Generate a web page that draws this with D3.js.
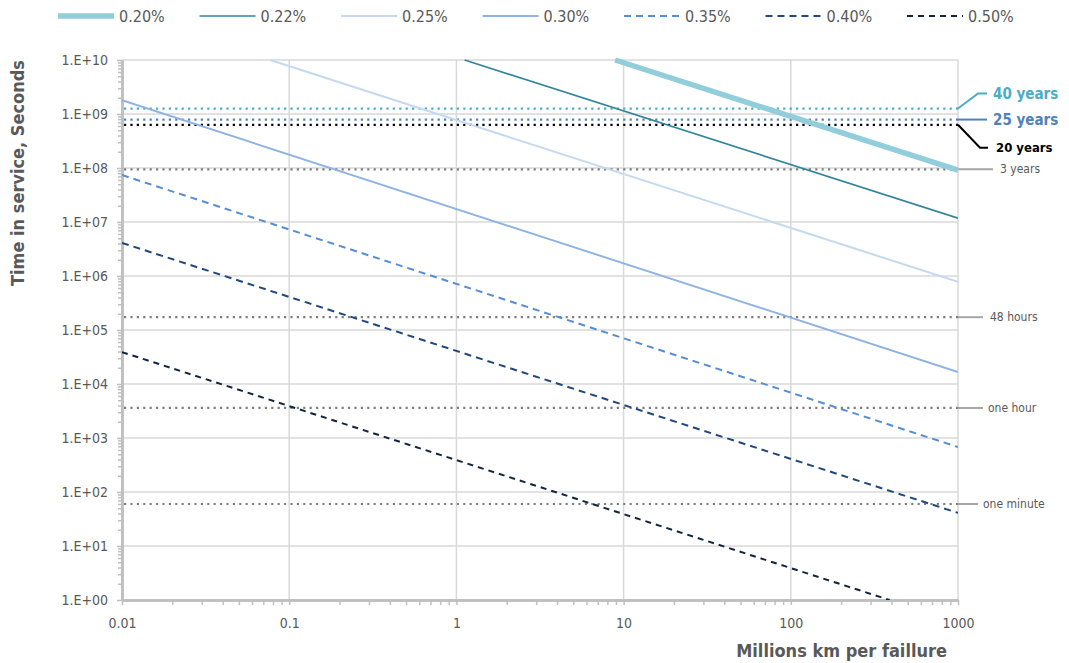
<!DOCTYPE html>
<html>
<head>
<meta charset="utf-8">
<script src="https://cdn.jsdelivr.net/npm/d3@7"></script>
<style>
  html, body { margin: 0; padding: 0; background: #fff; }
  svg { display: block; }
  text { font-family: "Liberation Sans Narrow", "DejaVu Sans Condensed", "Liberation Sans", sans-serif; }
</style>
</head>
<body>
<svg id="chart" width="1069" height="663"></svg>
<script>
// ---------- data ----------
const seriesNames = ["0.20%", "0.22%", "0.25%", "0.30%", "0.35%", "0.40%", "0.50%"];
// each series is a straight line on the log-log plot; endpoints
const startX = [8.9, 1.12, 0.077, 0.01, 0.01, 0.01, 0.01];
const startY = [1e10, 1e10, 1e10, 1.8e9, 7.4e7, 4.1e6, 3.9e4];
const endX   = [1000, 1000, 1000, 1000, 1000, 1000, 390];
const endY   = [9.1e7, 1.18e7, 7.8e5, 1.66e4, 680, 41, 1];

const refLabels = ["40 years", "25 years", "20 years", "3 years", "48 hours", "one hour", "one minute"];
const refValues = [1.262e9, 7.89e8, 6.31e8, 9.47e7, 172800, 3600, 60];

const xTickValues = [0.01, 0.1, 1, 10, 100, 1000];
const xTickLabels = ["0.01", "0.1", "1", "10", "100", "1000"];
const yTickValues = [1, 10, 100, 1e3, 1e4, 1e5, 1e6, 1e7, 1e8, 1e9, 1e10];
const yTickLabels = ["1.E+00", "1.E+01", "1.E+02", "1.E+03", "1.E+04", "1.E+05", "1.E+06", "1.E+07", "1.E+08", "1.E+09", "1.E+10"];

const xTitle = "Millions km per faillure";
const yTitle = "Time in service, Seconds";

// ---------- styles ----------
const seriesColor = ["#92cddc", "#31849b", "#c5d9f1", "#8db3e2", "#558ed5", "#1f497d", "#10253f"];
const seriesWidth = [5.5, 1.7, 2, 1.9, 2, 2, 2];
const seriesDash  = [null, null, null, null, "7,5", "7,5", "6,5"];

const refColor = ["#4bacc6", "#4f81bd", "#000000", "#7f7f7f", "#7f7f7f", "#7f7f7f", "#7f7f7f"];
const leaderColor = ["#4bacc6", "#4f81bd", "#000000", "#a6a6a6", "#a6a6a6", "#a6a6a6", "#a6a6a6"];

const svg = d3.select("#chart");
const M = { left: 122, right: 958, top: 60, bottom: 600 };

const x = d3.scaleLog().domain([0.01, 1000]).range([M.left, M.right]);
const y = d3.scaleLog().domain([1, 1e10]).range([M.bottom, M.top]);

// minor tick positions
function minors(lo, hi) {
  const out = [];
  for (let e = Math.round(Math.log10(lo)); e < Math.round(Math.log10(hi)); e++) {
    for (let k = 2; k <= 9; k++) out.push(k * Math.pow(10, e));
  }
  return out;
}

// gridlines
const grid = svg.append("g");
grid.selectAll("line.gx").data(xTickValues).join("line")
  .attr("x1", d => x(d)).attr("x2", d => x(d))
  .attr("y1", M.top).attr("y2", M.bottom)
  .attr("stroke", "#d9d9d9").attr("stroke-width", 1.5);
grid.selectAll("line.gy").data(yTickValues).join("line")
  .attr("x1", M.left).attr("x2", M.right)
  .attr("y1", d => y(d)).attr("y2", d => y(d))
  .attr("stroke", "#d9d9d9").attr("stroke-width", 1.5);

// axes
const axisColor = "#bfbfbf";
const xMinor = svg.append("g").attr("transform", `translate(0,${M.bottom})`)
  .call(d3.axisBottom(x).tickValues(minors(0.01, 1000)).tickFormat("").tickSize(5).tickSizeOuter(0));
const xAxis = svg.append("g").attr("transform", `translate(0,${M.bottom})`)
  .call(d3.axisBottom(x).tickValues(xTickValues).tickFormat((d, i) => xTickLabels[i]).tickSize(5).tickSizeOuter(0).tickPadding(13));
const yMinor = svg.append("g").attr("transform", `translate(${M.left},0)`)
  .call(d3.axisLeft(y).tickValues(minors(1, 1e10)).tickFormat("").tickSize(4).tickSizeOuter(0));
const yAxis = svg.append("g").attr("transform", `translate(${M.left},0)`)
  .call(d3.axisLeft(y).tickValues(yTickValues).tickFormat((d, i) => yTickLabels[i]).tickSize(5).tickSizeOuter(0).tickPadding(9));

[xMinor, xAxis, yMinor, yAxis].forEach(g => {
  g.select(".domain").attr("stroke", axisColor).attr("stroke-width", 2.5);
  g.selectAll(".tick line").attr("stroke", axisColor).attr("stroke-width", 1.5);
  g.selectAll(".tick text").attr("fill", "#595959").style("font-size", "14px")
    .style("font-family", '"Liberation Sans Narrow", "DejaVu Sans Condensed", "Liberation Sans", sans-serif');
});

// clip
svg.append("clipPath").attr("id", "plotclip").append("rect")
  .attr("x", M.left).attr("y", M.top - 4).attr("width", M.right - M.left).attr("height", M.bottom - M.top + 4);

// reference dotted lines
const refG = svg.append("g");
refValues.forEach((v, i) => {
  refG.append("line")
    .attr("x1", M.left + 2).attr("x2", M.right)
    .attr("y1", y(v)).attr("y2", y(v))
    .attr("stroke", refColor[i]).attr("stroke-width", 2.2)
    .attr("stroke-dasharray", "2.2,4.2");
});

// series
const line = d3.line().x(d => x(d[0])).y(d => y(d[1]));
const serG = svg.append("g").attr("clip-path", "url(#plotclip)");
seriesNames.forEach((name, i) => {
  const pts = [[startX[i], startY[i]], [endX[i], endY[i]]];
  serG.append("path").datum(pts)
    .attr("d", line)
    .attr("fill", "none")
    .attr("stroke", seriesColor[i])
    .attr("stroke-width", seriesWidth[i])
    .attr("stroke-dasharray", seriesDash[i]);
});

// reference labels with leader lines
const labelG = svg.append("g");
const leaderEnd = [
  { pts: [[0, 0], [20, -15], [29, -15]], tx: 35, ty: -15, size: 15, bold: true },
  { pts: [[0, 0], [29, 0]], tx: 35, ty: 0, size: 15, bold: true },
  { pts: [[0, 0], [22, 23], [30, 23]], tx: 38, ty: 23, size: 13, bold: true },
  { pts: [[0, 0], [35, 0]], tx: 42, ty: 0, size: 12, bold: false },
  { pts: [[0, 0], [25, 0]], tx: 32, ty: 0, size: 12, bold: false },
  { pts: [[0, 0], [25, 0]], tx: 30, ty: 0, size: 12, bold: false },
  { pts: [[0, 0], [20, 0]], tx: 25, ty: 0, size: 12, bold: false }
];
refValues.forEach((v, i) => {
  const L = leaderEnd[i];
  const ox = M.right, oy = y(v);
  labelG.append("path")
    .attr("d", d3.line()(L.pts.map(p => [ox + p[0], oy + p[1]])))
    .attr("fill", "none").attr("stroke", leaderColor[i]).attr("stroke-width", 2);
  labelG.append("text")
    .attr("x", ox + L.tx).attr("y", oy + L.ty).attr("dy", "0.35em")
    .attr("fill", i >= 3 ? "#595959" : (i === 2 ? "#000" : refColor[i]))
    .style("font-size", L.size + "px")
    .style("font-weight", L.bold ? "bold" : "normal")
    .text(refLabels[i]);
});

// legend
const legG = svg.append("g");
seriesNames.forEach((name, i) => {
  const lx = 58 + i * 141.5;
  legG.append("line")
    .attr("x1", lx).attr("x2", lx + 56).attr("y1", 16).attr("y2", 16)
    .attr("stroke", seriesColor[i]).attr("stroke-width", seriesWidth[i])
    .attr("stroke-dasharray", seriesDash[i]);
  legG.append("text")
    .attr("x", lx + 61).attr("y", 16).attr("dy", "0.35em")
    .attr("fill", "#595959").style("font-size", "16px")
    .text(name);
});

// axis titles
svg.append("text")
  .attr("transform", `translate(24,173) rotate(-90)`)
  .attr("text-anchor", "middle").attr("fill", "#595959")
  .style("font-size", "18px").style("font-weight", "bold")
  .text(yTitle);
svg.append("text")
  .attr("x", 947).attr("y", 657).attr("text-anchor", "end")
  .attr("fill", "#595959")
  .style("font-size", "18px").style("font-weight", "bold")
  .text(xTitle);
</script>
</body>
</html>
